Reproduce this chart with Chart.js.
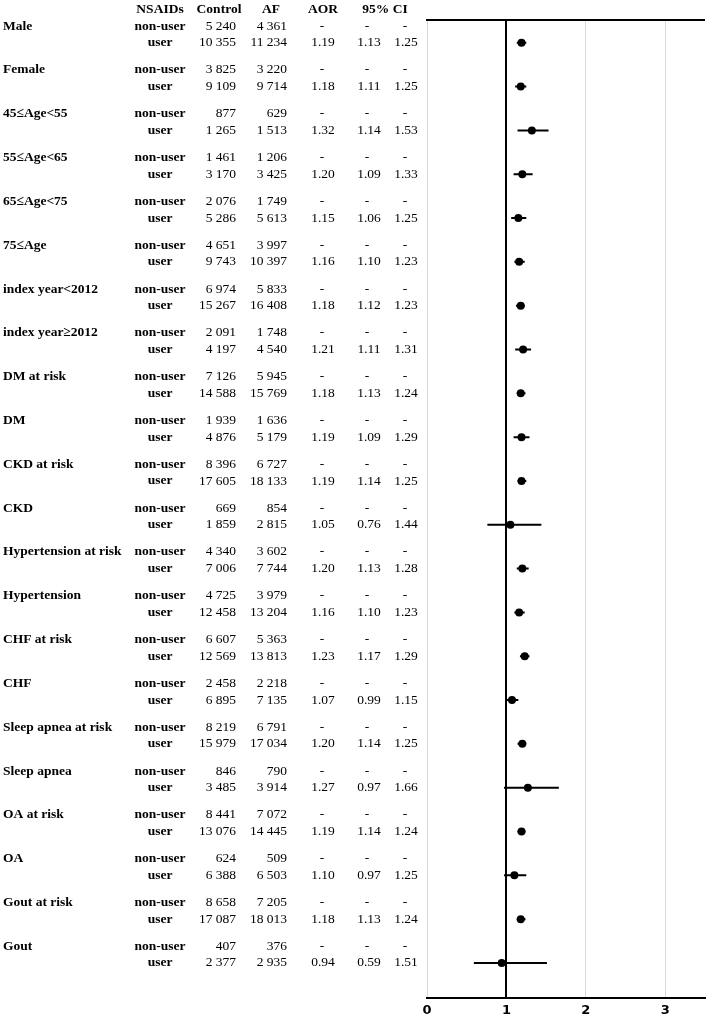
<!DOCTYPE html>
<html>
<head>
<meta charset="utf-8">
<script src="https://cdn.jsdelivr.net/npm/chart.js@4.4.1/dist/chart.umd.min.js"></script>
<style>
  body { margin: 0; background: #fff; }
  canvas { display: block; }
</style>
</head>
<body>
<canvas id="forest" width="709" height="1018"></canvas>
<script>
// subgroups, one per block of two rows
const groups = ["Male", "Female", "45≤Age<55", "55≤Age<65", "65≤Age<75", "75≤Age",
    "index year<2012", "index year≥2012", "DM at risk", "DM", "CKD at risk", "CKD",
    "Hypertension at risk", "Hypertension", "CHF at risk", "CHF", "Sleep apnea at risk",
    "Sleep apnea", "OA at risk", "OA", "Gout at risk", "Gout"];

const controlNonUser = [5240, 3825, 877, 1461, 2076, 4651, 6974, 2091, 7126, 1939, 8396, 669, 4340, 4725, 6607, 2458, 8219, 846, 8441, 624, 8658, 407];
const controlUser = [10355, 9109, 1265, 3170, 5286, 9743, 15267, 4197, 14588, 4876, 17605, 1859, 7006, 12458, 12569, 6895, 15979, 3485, 13076, 6388, 17087, 2377];
const afNonUser = [4361, 3220, 629, 1206, 1749, 3997, 5833, 1748, 5945, 1636, 6727, 854, 3602, 3979, 5363, 2218, 6791, 790, 7072, 509, 7205, 376];
const afUser = [11234, 9714, 1513, 3425, 5613, 10397, 16408, 4540, 15769, 5179, 18133, 2815, 7744, 13204, 13813, 7135, 17034, 3914, 14445, 6503, 18013, 2935];

const aor = [1.19, 1.18, 1.32, 1.20, 1.15, 1.16, 1.18, 1.21, 1.18, 1.19, 1.19, 1.05, 1.20, 1.16, 1.23, 1.07, 1.20, 1.27, 1.19, 1.10, 1.18, 0.94];
const ciLow = [1.13, 1.11, 1.14, 1.09, 1.06, 1.10, 1.12, 1.11, 1.13, 1.09, 1.14, 0.76, 1.13, 1.10, 1.17, 0.99, 1.14, 0.97, 1.14, 0.97, 1.13, 0.59];
const ciHigh = [1.25, 1.25, 1.53, 1.33, 1.25, 1.23, 1.23, 1.31, 1.24, 1.29, 1.25, 1.44, 1.28, 1.23, 1.29, 1.15, 1.25, 1.66, 1.24, 1.25, 1.24, 1.51];

const rowLabels = ["non-user", "user"];
const headers = ["NSAIDs", "Control", "AF", "AOR", "95% CI"];
const xTicks = [0, 1, 2, 3];

function fmt(n)
{
    let s = String(n);
    if (s.length > 3) s = s.slice(0, s.length - 3) + " " + s.slice(s.length - 3);
    return s;
}

let points = groups.map((g, i) => ({ x: aor[i], y: i }));
let whiskers = [];
groups.forEach((g, i) => {
    whiskers.push({ x: ciLow[i], y: i });
    whiskers.push({ x: ciHigh[i], y: i });
    whiskers.push({ x: ciHigh[i], y: null });  // break the line
});

// table on the left, rows placed with the y scale
const tablePlugin = {
    id: "table",
    afterDraw(chart)
    {
        let ctx = chart.ctx;
        let y = chart.scales.y;
        let area = chart.chartArea;
        let serif = '"Liberation Serif", "Times New Roman", serif';

        ctx.save();
        // top rule
        ctx.strokeStyle = "#000";
        ctx.lineWidth = 2;
        ctx.beginPath();
        ctx.moveTo(area.left - 1, area.top);
        ctx.lineTo(area.right, area.top);
        ctx.stroke();

        ctx.fillStyle = "#000";
        ctx.textBaseline = "middle";

        ctx.font = "bold 13.5px " + serif;
        ctx.textAlign = "center";
        let hy = y.getPixelForValue(-0.77);
        ctx.fillText(headers[0], 160, hy);
        ctx.fillText(headers[1], 219, hy);
        ctx.fillText(headers[2], 271, hy);
        ctx.fillText(headers[3], 323, hy);
        ctx.fillText(headers[4], 385, hy);

        groups.forEach((g, i) => {
            let yu = y.getPixelForValue(i);
            let yn = y.getPixelForValue(i - 0.38);

            ctx.font = "bold 13.5px " + serif;
            ctx.textAlign = "left";
            ctx.fillText(g, 3, yn);
            ctx.textAlign = "center";
            ctx.fillText(rowLabels[0], 160, yn);
            ctx.fillText(rowLabels[1], 160, yu);

            ctx.font = "13.5px " + serif;
            ctx.textAlign = "right";
            ctx.fillText(fmt(controlNonUser[i]), 236, yn);
            ctx.fillText(fmt(controlUser[i]), 236, yu);
            ctx.fillText(fmt(afNonUser[i]), 287, yn);
            ctx.fillText(fmt(afUser[i]), 287, yu);

            ctx.textAlign = "center";
            ctx.fillText("-", 322, yn);
            ctx.fillText("-", 367, yn);
            ctx.fillText("-", 405, yn);
            ctx.fillText(aor[i].toFixed(2), 323, yu);
            ctx.fillText(ciLow[i].toFixed(2), 369, yu);
            ctx.fillText(ciHigh[i].toFixed(2), 406, yu);
        });
        ctx.restore();
    }
};

new Chart(document.getElementById("forest"),
    {
        type: "scatter",
        data:
            {
                datasets:
                    [
                        {
                            type: "line",
                            data: whiskers,
                            showLine: true,
                            spanGaps: false,
                            borderColor: "#000",
                            borderWidth: 2,
                            pointRadius: 0
                        },
                        {
                            data: points,
                            pointRadius: 4,
                            pointBackgroundColor: "#000",
                            pointBorderColor: "#000",
                            pointBorderWidth: 0
                        }
                    ]
            },
        options:
            {
                responsive: false,
                animation: false,
                layout: { padding: { left: 427, right: 3, top: 20, bottom: 0 } },
                plugins: { legend: { display: false }, tooltip: { enabled: false } },
                scales:
                    {
                        x:
                            {
                                type: "linear",
                                position: "bottom",
                                min: 0,
                                max: 3.5,
                                afterBuildTicks: (scale) => {
                                    scale.ticks = xTicks.map(v => ({ value: v }));
                                },
                                afterFit: (scale) => { scale.height = 20; },
                                ticks:
                                    {
                                        color: "#000",
                                        padding: 5,
                                        font: { family: '"DejaVu Sans", Verdana, sans-serif', size: 13, weight: "bold" }
                                    },
                                grid:
                                    {
                                        drawTicks: false,
                                        color: (c) => (c.tick && c.tick.value === 1) ? "#000" : "#d9d9d9",
                                        lineWidth: (c) => (c.tick && c.tick.value === 1) ? 2 : 1
                                    },
                                border: { color: "#000", width: 2 }
                            },
                        y:
                            {
                                type: "linear",
                                reverse: true,
                                min: -0.52,
                                max: 21.8,
                                display: false
                            }
                    }
            },
        plugins: [tablePlugin]
    });
</script>
</body>
</html>
